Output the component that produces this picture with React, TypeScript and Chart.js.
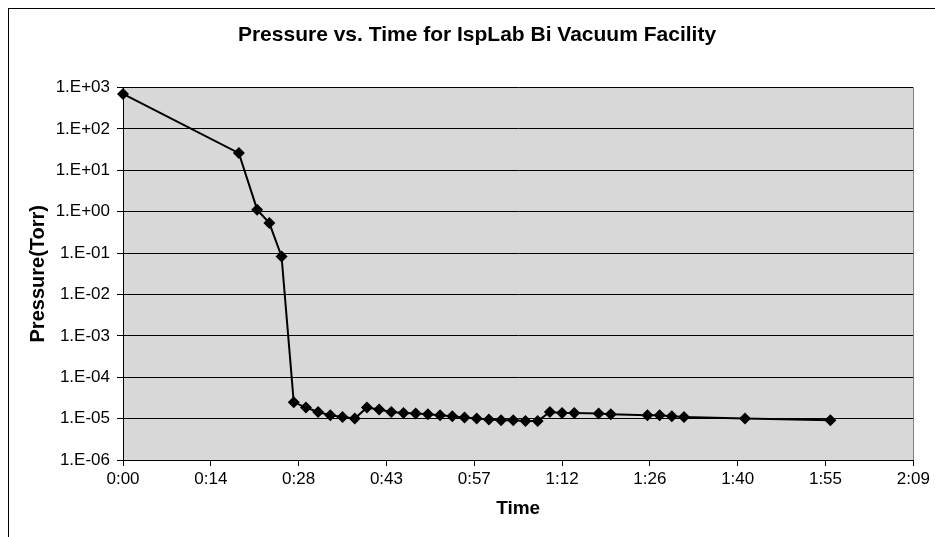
import React, { useEffect, useRef } from 'react';
import { Chart, registerables } from 'chart.js';

Chart.register(...registerables);

const chartTitle = 'Pressure vs. Time for IspLab Bi Vacuum Facility';
const xAxisTitle = 'Time';
const yAxisTitle = 'Pressure(Torr)';

// elapsed time in minutes
const timeMinutes = [
  0, 19, 22, 24, 26,
  28, 30, 32, 34, 36, 38, 40, 42, 44, 46, 48, 50, 52, 54, 56, 58, 60, 62, 64, 66, 68, 70, 72, 74,
  78, 80, 86, 88, 90, 92, 102, 116,
];

// pressure in Torr
const pressureTorr = [
  700, 26, 1.12, 0.53, 0.083,
  2.5e-5, 1.85e-5, 1.45e-5, 1.2e-5, 1.09e-5, 1.0e-5, 1.85e-5, 1.65e-5, 1.45e-5, 1.36e-5, 1.32e-5,
  1.27e-5, 1.2e-5, 1.14e-5, 1.06e-5, 1.0e-5, 0.95e-5, 0.91e-5, 0.91e-5, 0.875e-5, 0.875e-5,
  1.45e-5, 1.36e-5, 1.36e-5,
  1.32e-5, 1.27e-5, 1.2e-5, 1.2e-5, 1.14e-5, 1.09e-5, 1.0e-5, 0.91e-5,
];

const xTickMinutes = [0, 14.4, 28.8, 43.2, 57.6, 72, 86.4, 100.8, 115.2, 129.6];
const xTickLabels = ['0:00', '0:14', '0:28', '0:43', '0:57', '1:12', '1:26', '1:40', '1:55', '2:09'];

const yTickValues = [1e3, 1e2, 1e1, 1, 1e-1, 1e-2, 1e-3, 1e-4, 1e-5, 1e-6];
const yTickLabels = ['1.E+03', '1.E+02', '1.E+01', '1.E+00', '1.E-01', '1.E-02', '1.E-03', '1.E-04', '1.E-05', '1.E-06'];

const FONT = '"Liberation Sans", Arial, Helvetica, sans-serif';

export default function App() {
  const canvasRef = useRef<HTMLCanvasElement | null>(null);

  useEffect(() => {
    const canvas = canvasRef.current;
    if (!canvas) return;

    const plotBg = {
      id: 'plotBg',
      beforeDraw(chart: any) {
        const { ctx, chartArea } = chart;
        ctx.save();
        ctx.fillStyle = '#d8d8d8';
        ctx.fillRect(chartArea.left, chartArea.top, chartArea.right - chartArea.left, chartArea.bottom - chartArea.top);
        ctx.restore();
      },
      beforeDatasetsDraw(chart: any) {
        const { ctx, chartArea } = chart;
        ctx.save();
        ctx.strokeStyle = '#808080';
        ctx.lineWidth = 1;
        ctx.beginPath();
        ctx.moveTo(Math.round(chartArea.right) + 0.5, chartArea.top);
        ctx.lineTo(Math.round(chartArea.right) + 0.5, chartArea.bottom);
        ctx.stroke();
        ctx.restore();
      },
    };

    const titlePlugin = {
      id: 'customTitle',
      afterDraw(chart: any) {
        const { ctx } = chart;
        ctx.save();
        ctx.font = `bold 21px ${FONT}`;
        ctx.fillStyle = '#000';
        ctx.textAlign = 'center';
        ctx.textBaseline = 'middle';
        ctx.fillText(chartTitle, 468, 26);
        ctx.restore();
      },
    };

    const chart = new Chart(canvas, {
      type: 'line',
      data: {
        datasets: [
          {
            data: timeMinutes.map((t, i) => ({ x: t, y: pressureTorr[i] })),
            borderColor: '#000',
            borderWidth: 2,
            backgroundColor: '#000',
            pointStyle: 'rectRot',
            pointRadius: 6,
            pointBackgroundColor: '#000',
            pointBorderColor: '#000',
            pointBorderWidth: 0,
            tension: 0,
            clip: false,
          } as any,
        ],
      },
      options: {
        responsive: false,
        animation: false,
        events: [],
        layout: { padding: { top: 78.5, right: 21.7, left: 0, bottom: 0 } },
        plugins: {
          legend: { display: false },
          title: { display: false },
          tooltip: { enabled: false },
        },
        scales: {
          x: {
            type: 'linear',
            min: 0,
            max: 129.6,
            afterBuildTicks: (s: any) => {
              s.ticks = xTickMinutes.map((v) => ({ value: v }));
            },
            afterFit: (s: any) => {
              s.height = 77;
              s.paddingLeft = 0;
              s.paddingRight = 0;
            },
            ticks: {
              autoSkip: false,
              maxRotation: 0,
              padding: 3,
              color: '#000',
              font: { family: FONT, size: 17 },
              callback: (_v: any, i: number) => xTickLabels[i],
            },
            grid: {
              drawOnChartArea: false,
              drawTicks: true,
              tickLength: 6,
              tickColor: '#000',
              color: '#000',
            },
            border: { color: '#000', width: 1 },
            title: {
              display: true,
              text: xAxisTitle,
              color: '#000',
              font: { family: FONT, size: 19, weight: 'bold' },
              padding: { top: 0, bottom: 17 },
            },
          },
          y: {
            type: 'logarithmic',
            min: 1e-6,
            max: 1e3,
            afterBuildTicks: (s: any) => {
              s.ticks = yTickValues.map((v) => ({ value: v }));
            },
            afterFit: (s: any) => {
              s.width = 114;
              s.paddingTop = 0;
              s.paddingBottom = 0;
            },
            ticks: {
              autoSkip: false,
              padding: 7,
              color: '#000',
              font: { family: FONT, size: 17 },
              callback: (_v: any, i: number) => yTickLabels[i],
            },
            grid: {
              color: '#000',
              lineWidth: 1,
              drawTicks: true,
              tickLength: 6,
              tickColor: '#000',
            },
            border: { color: '#000', width: 1 },
            title: {
              display: true,
              text: yAxisTitle,
              color: '#000',
              font: { family: FONT, size: 20, weight: 'bold' },
              padding: { top: 17, bottom: 0 },
            },
          },
        },
      } as any,
      plugins: [plotBg, titlePlugin],
    });

    return () => {
      chart.destroy();
    };
  }, []);

  return (
    <div
      style={{
        position: 'fixed',
        left: 8,
        top: 8,
        width: 926,
        height: 528,
        borderLeft: '1px solid #000',
        borderTop: '1px solid #000',
        background: '#fff',
      }}
    >
      <canvas ref={canvasRef} width={926} height={528} style={{ display: 'block', width: 926, height: 528 }} />
    </div>
  );
}
